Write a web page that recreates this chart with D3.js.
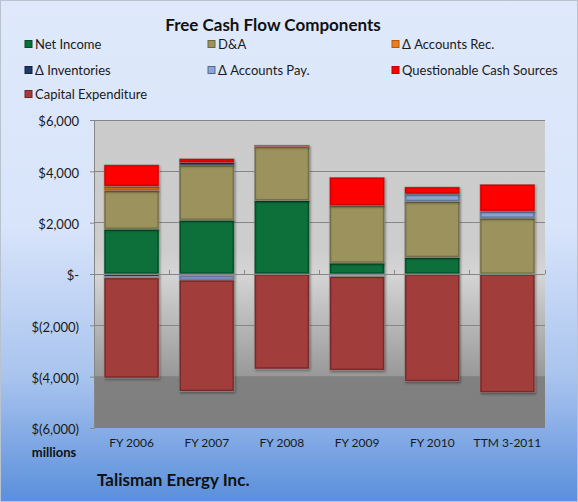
<!DOCTYPE html>
<html><head><meta charset="utf-8">
<script src="https://cdn.jsdelivr.net/npm/d3@7"></script>
<style>
html,body{margin:0;padding:0;background:#fff;}
svg{display:block;font-family:Lato,"Open Sans",sans-serif;}
</style></head>
<body><svg id="chart" width="578" height="502"></svg>
<script>
// ---- data (millions USD) ----
const categories = ["FY 2006","FY 2007","FY 2008","FY 2009","FY 2010","TTM 3-2011"];
const seriesNames = ["Net Income","D&A","\u0394 Accounts Rec.","\u0394 Inventories","\u0394 Accounts Pay.","Questionable Cash Sources","Capital Expenditure"];
const netIncome      = [1750, 2100, 2860,  430,  650,    0];
const depAmort       = [1500, 2150, 2110, 2235, 2180, 2180];
const accountsRec    = [ 170,  -70,    0,    0,    0,    0];
const inventories    = [ -90,   90,    0,    0,    0,    0];
const accountsPay    = [ -60, -170,    0, -100,  290,  270];
const questionable   = [ 830,  150,   50, 1100,  270, 1040];
const capex          = [-3900,-4330,-3700,-3650,-4190,-4620];
const yTicks = [-6000,-4000,-2000,0,2000,4000,6000];
const yTickLabels = ["$(6,000)","$(4,000)","$(2,000)","$-","$2,000","$4,000","$6,000"];
const colors = ["#07703a","#9c925d","#f07c1c","#1f3a66","#8ea6d4","#ff0000","#a13c3b"];
const darkColors = ["#044a24","#6d6640","#b5590c","#112340","#54688f","#c40000","#6c2626"];

const seriesValues = [netIncome, depAmort, accountsRec, inventories, accountsPay, questionable, capex];
const table = categories.map((c,i)=>{
  const row = {cat:c};
  seriesNames.forEach((s,j)=>row[s]=seriesValues[j][i]);
  return row;
});

const svg = d3.select("#chart");
const W=578, H=502;
const defs = svg.append("defs");

const bg = defs.append("linearGradient").attr("id","bg").attr("x1",0).attr("y1",0).attr("x2",0).attr("y2",1);
[[0,"#dfe9fb"],[0.45,"#d8e4fa"],[0.75,"#a9c4ee"],[1,"#5a8fdb"]].forEach(s=>bg.append("stop").attr("offset",s[0]).attr("stop-color",s[1]));
const pg = defs.append("linearGradient").attr("id","pg").attr("x1",0).attr("y1",0).attr("x2",0).attr("y2",1);
[[0,"#cbcbcb"],[0.42,"#cdcdcd"],[0.5,"#d5d5d5"],[0.83,"#999999"],[0.832,"#808080"],[1,"#7f7f7f"]].forEach(s=>pg.append("stop").attr("offset",s[0]).attr("stop-color",s[1]));
const sh = defs.append("filter").attr("id","shadow").attr("x","-20%").attr("y","-20%").attr("width","140%").attr("height","140%");
sh.append("feDropShadow").attr("dx",1).attr("dy",1.5).attr("stdDeviation",1.2).attr("flood-color","#000").attr("flood-opacity",0.35);

svg.append("rect").attr("x",0.5).attr("y",0.5).attr("width",W-1).attr("height",H-1)
  .attr("fill","url(#bg)").attr("stroke","#b9c3cf");

const plot = {left:94, right:545, top:120, bottom:428};
const x = d3.scaleBand().domain(categories).range([plot.left, plot.right]).paddingInner(0.27).paddingOuter(0.135);
const y = d3.scaleLinear().domain([-6000,6000]).range([plot.bottom, plot.top]);

svg.append("rect").attr("x",plot.left).attr("y",plot.top).attr("width",plot.right-plot.left).attr("height",plot.bottom-plot.top)
  .attr("fill","url(#pg)");

// gridlines
svg.append("g").selectAll("line").data(yTicks.filter(t=>t!==-6000)).join("line")
  .attr("x1",plot.left).attr("x2",plot.right).attr("y1",d=>y(d)).attr("y2",d=>y(d))
  .attr("stroke",d=>d===-4000?"#8a8a8a":"#868686").attr("stroke-width",d=>d===-4000?0.6:1).attr("shape-rendering","crispEdges");

// y axis
const yAxis = d3.axisLeft(y).tickValues(yTicks).tickSize(4).tickFormat((d,i)=>yTickLabels[i]);
const ya = svg.append("g").attr("transform",`translate(${plot.left},0)`).call(yAxis);
ya.select(".domain").attr("stroke","#868686");
ya.selectAll(".tick line").attr("stroke","#868686");
ya.selectAll(".tick text").attr("font-size",13).attr("fill","#1a1a1a").attr("x",-15).attr("dy","0.45em")
  .attr("font-family","Lato,'Open Sans',sans-serif");

// stacked bars
const stack = d3.stack().keys(seriesNames).order(d3.stackOrderNone).offset(d3.stackOffsetDiverging);
const stacked = stack(table);
const barG = svg.append("g");
stacked.forEach((layer,j)=>{
  const g = barG.append("g").attr("filter","url(#shadow)");
  layer.forEach((d,i)=>{
    const v = d[1]-d[0];
    if (Math.abs(v) < 1) return;
    const y0 = y(Math.max(d[0],d[1])), y1 = y(Math.min(d[0],d[1]));
    const bx = x(d.data.cat), bw = x.bandwidth();
    const h = y1-y0;
    g.append("rect").attr("x",bx).attr("y",y0).attr("width",bw).attr("height",h)
      .attr("fill",colors[j]).attr("stroke","#8c8c8c").attr("stroke-width",0.6);
    if (h > 3) {
      g.append("rect").attr("x",bx+1).attr("y",y0+1).attr("width",bw-2).attr("height",h-2)
        .attr("fill","none").attr("stroke",darkColors[j]).attr("stroke-width",1.3).attr("stroke-opacity",0.8);
    }
  });
});

// x axis (zero line with category ticks pointing up)
const xg = svg.append("g");
xg.append("line").attr("x1",plot.left).attr("x2",plot.right).attr("y1",y(0)).attr("y2",y(0))
  .attr("stroke","#868686").attr("stroke-width",1).attr("shape-rendering","crispEdges");
const step = x.step();
xg.selectAll("line.t").data(d3.range(categories.length+1)).join("line").attr("class","t")
  .attr("x1",i=>plot.left+i*step).attr("x2",i=>plot.left+i*step)
  .attr("y1",y(0)).attr("y2",y(0)-4).attr("stroke","#868686").attr("shape-rendering","crispEdges");
svg.append("g").selectAll("text").data(categories).join("text")
  .attr("x",d=>x(d)+x.bandwidth()/2).attr("y",447).attr("text-anchor","middle")
  .attr("font-size",12).attr("fill","#1a1a1a").text(d=>d);

// titles
svg.append("text").attr("x",273).attr("y",31).attr("text-anchor","middle")
  .attr("font-size",17).attr("font-weight","bold").attr("fill","#111").text("Free Cash Flow Components");
svg.append("text").attr("x",54).attr("y",457).attr("text-anchor","middle")
  .attr("font-size",13).attr("font-weight","bold").attr("fill","#111").text("millions");
svg.append("text").attr("x",97).attr("y",486)
  .attr("font-size",17).attr("font-weight","bold").attr("fill","#111").text("Talisman Energy Inc.");

// legend
const legCols = [25, 208, 392];
const legRows = [44, 70, 94];
const leg = svg.append("g");
seriesNames.forEach((s,j)=>{
  const cx = legCols[j%3], cy = legRows[Math.floor(j/3)];
  leg.append("rect").attr("x",cx).attr("y",cy-3.5).attr("width",7).attr("height",7)
    .attr("fill",colors[j]).attr("stroke",darkColors[j]).attr("stroke-width",1);
  leg.append("text").attr("x",cx+10).attr("y",cy).attr("dy","0.36em")
    .attr("font-size",13).attr("fill","#1a1a1a").text(s);
});
</script>
</body></html>
